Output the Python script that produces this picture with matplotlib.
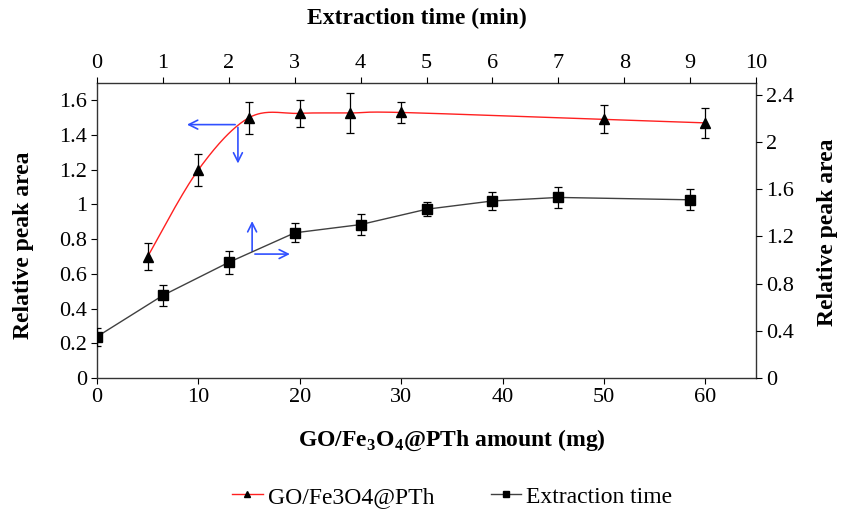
import numpy as np
import matplotlib
matplotlib.use("Agg")
import matplotlib.pyplot as plt
from matplotlib.lines import Line2D
from matplotlib.ticker import FuncFormatter

plt.rcParams['font.family'] = ['Liberation Serif', 'DejaVu Serif']
plt.rcParams['mathtext.fontset'] = 'custom'
plt.rcParams['mathtext.rm'] = 'Liberation Serif'
plt.rcParams['mathtext.bf'] = 'Liberation Serif:bold'

# sorbent amount series (bottom / left axes)
amount_mg = [5, 10, 15, 20, 25, 30, 50, 60]
amount_area = [0.70, 1.20, 1.50, 1.525, 1.527, 1.53, 1.49, 1.47]
amount_err = [0.077, 0.091, 0.093, 0.078, 0.116, 0.061, 0.081, 0.088]

# extraction time series (top / right axes)
time_min = [0, 1, 2, 3, 4, 5, 6, 7, 9]
time_area = [0.35, 0.70, 0.98, 1.23, 1.30, 1.43, 1.50, 1.53, 1.51]
time_err = [0.075, 0.09, 0.095, 0.08, 0.09, 0.06, 0.08, 0.09, 0.09]

left_ticks = [0, 0.2, 0.4, 0.6, 0.8, 1.0, 1.2, 1.4, 1.6]
right_ticks = [0, 0.4, 0.8, 1.2, 1.6, 2.0, 2.4]
bottom_ticks = [0, 10, 20, 30, 40, 50, 60]
top_ticks = list(range(0, 11))

TICK_FS = 16
LABEL_FS = 17


def smooth(x, y, n=40):
    # Excel-style smoothed line (Catmull-Rom as cubic Bezier)
    p = np.column_stack([x, y]).astype(float)
    p = np.vstack([p[0], p, p[-1]])
    out = []
    t = np.linspace(0, 1, n)[:, None]
    for i in range(1, len(p) - 2):
        p0, p1, p2, p3 = p[i - 1], p[i], p[i + 1], p[i + 2]
        c1 = p1 + (p2 - p0) / 6
        c2 = p2 - (p3 - p1) / 6
        seg = ((1 - t) ** 3) * p1 + 3 * ((1 - t) ** 2) * t * c1 + 3 * (1 - t) * t ** 2 * c2 + t ** 3 * p2
        out.append(seg)
    out = np.vstack(out)
    return out[:, 0], out[:, 1]


fig = plt.figure(figsize=(8.42, 5.09), dpi=100)
pos = [0.1152, 0.2574, 0.7827, 0.5796]
ax = fig.add_axes(pos)
ax2 = fig.add_axes(pos, frameon=False)

fmt = FuncFormatter(lambda v, _: f"{v:g}")

# bottom / left
sx, sy = smooth(amount_mg, amount_area)
ax.plot(sx, sy, color='#ff2020', lw=1.0, zorder=2)
ax.errorbar(amount_mg, amount_area, yerr=amount_err, fmt='^', color='black',
            ms=6.5, ecolor='black', elinewidth=0.9, capsize=2.8, capthick=0.9, zorder=3)
ax.set_xlim(0, 65)
ax.set_ylim(0, 1.7)
ax.set_xticks(bottom_ticks)
ax.set_yticks(left_ticks)
ax.xaxis.set_major_formatter(fmt)
ax.yaxis.set_major_formatter(fmt)
ax.tick_params(direction='out', length=4, labelsize=TICK_FS, top=False, right=False, pad=3)
for s in ax.spines.values():
    s.set_color('#333333')
    s.set_linewidth(1.0)

# top / right
ax2.plot(time_min, time_area, color='#404040', lw=1.0, zorder=2)
ax2.errorbar(time_min, time_area, yerr=time_err, fmt='s', color='black',
             ms=7.5, ecolor='black', elinewidth=0.9, capsize=2.8, capthick=0.9, zorder=3)
ax2.set_xlim(0, 10)
ax2.set_ylim(0, 2.5)
ax2.set_xticks(top_ticks)
ax2.set_yticks(right_ticks)
ax2.xaxis.set_major_formatter(fmt)
ax2.yaxis.set_major_formatter(fmt)
ax2.xaxis.tick_top()
ax2.yaxis.tick_right()
ax2.xaxis.set_label_position('top')
ax2.yaxis.set_label_position('right')
ax2.tick_params(direction='out', length=4, labelsize=TICK_FS, pad=3)
ax2.patch.set_visible(False)

# labels
ax.set_xlabel(r"GO/Fe$_\mathbf{3}$O$_\mathbf{4}$@PTh amount (mg)", fontsize=LABEL_FS,
              fontweight='bold', va='center')
ax.xaxis.set_label_coords(0.539, -0.21)
ax.set_ylabel("Relative peak area", fontsize=LABEL_FS, fontweight='bold', va='center')
ax.yaxis.set_label_coords(-0.111, 0.45)
ax2.set_xlabel("Extraction time (min)", fontsize=LABEL_FS, fontweight='bold', va='center')
ax2.xaxis.set_label_coords(0.486, 1.22)
ax2.set_ylabel("Relative peak area", fontsize=LABEL_FS, fontweight='bold', va='center')
ax2.yaxis.set_label_coords(1.109, 0.495)

# blue guide arrows
arrow = dict(arrowstyle='->', color='#3050ff', lw=1.2, mutation_scale=16)
ax.annotate('', xy=(8.6, 1.46), xytext=(13.9, 1.46), arrowprops=arrow)
ax.annotate('', xy=(13.9, 1.22), xytext=(13.9, 1.46), arrowprops=arrow)
ax.annotate('', xy=(15.3, 0.92), xytext=(15.3, 0.714), arrowprops=arrow)
ax.annotate('', xy=(19.3, 0.714), xytext=(15.3, 0.714), arrowprops=arrow)

handles = [
    Line2D([], [], color='#ff2020', lw=1.0, marker='^', mfc='black', mec='black', ms=5),
    Line2D([], [], color='#404040', lw=1.0, marker='s', mfc='black', mec='black', ms=5),
]
fig.legend(handles, ["GO/Fe3O4@PTh", "Extraction time"], loc='center',
           bbox_to_anchor=(0.537, 0.024), ncol=2, frameon=False, fontsize=LABEL_FS,
           handlelength=1.3, handletextpad=0.2, columnspacing=2.4)

fig.savefig("out.png", dpi=100)
